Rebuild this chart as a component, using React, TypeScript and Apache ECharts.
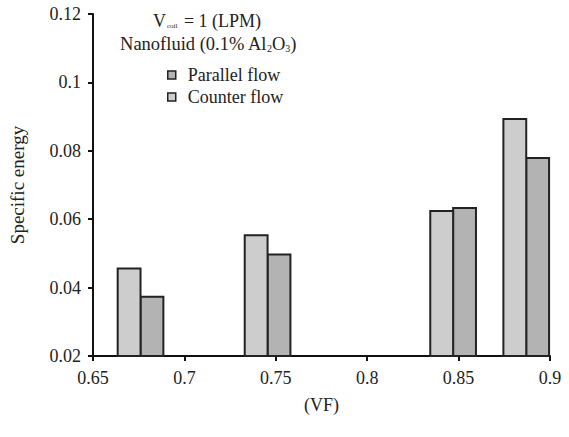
import React, { useEffect, useRef } from "react";
import * as echarts from "echarts";

// Volume fraction positions of each bar pair (left edge of the dark bar)
const vfPositions = [0.676, 0.7455, 0.847, 0.887];
// Specific energy, counter flow (light bars, left of each pair)
const counterFlow = [0.0456, 0.0553, 0.0624, 0.0893];
// Specific energy, parallel flow (dark bars, right of each pair)
const parallelFlow = [0.0373, 0.0497, 0.0633, 0.0779];
const xTicks = [0.65, 0.7, 0.75, 0.8, 0.85, 0.9];
const yTicks = [0.02, 0.04, 0.06, 0.08, 0.1, 0.12];

const BAR_W = 0.0125; // bar width in VF units
const Y_MIN = 0.02;
const FONT = "Liberation Serif";
const INK = "#222";

const makeBars = (name: string, values: number[], shift: number, fill: string) => ({
  name,
  type: "custom",
  itemStyle: { color: fill, borderColor: INK, borderWidth: 1.5 },
  data: vfPositions.map((x, i) => [x, values[i]]),
  renderItem: (_params: any, api: any) => {
    const x = api.value(0) + shift;
    const y = api.value(1);
    const p0 = api.coord([x, y]);
    const p1 = api.coord([x + BAR_W, Y_MIN]);
    return {
      type: "rect",
      shape: { x: p0[0], y: p0[1], width: p1[0] - p0[0], height: p1[1] - p0[1] },
      style: { fill, stroke: INK, lineWidth: 2 },
    };
  },
});

export default function App() {
  const ref = useRef<HTMLDivElement>(null);
  useEffect(() => {
    if (!ref.current) return;
    const chart = echarts.init(ref.current, undefined, { renderer: "svg" });
    chart.setOption({
      animation: false,
      backgroundColor: "#fff",
      textStyle: { fontFamily: FONT },
      grid: { left: 89, right: 19, top: 14, bottom: 81 },
      xAxis: {
        type: "value",
        min: xTicks[0],
        max: xTicks[xTicks.length - 1],
        interval: 0.05,
        name: "(VF)",
        nameLocation: "middle",
        nameGap: 40,
        nameTextStyle: { fontFamily: FONT, fontSize: 18, color: INK },
        axisLine: { show: true, lineStyle: { color: "#111", width: 2 } },
        axisTick: { show: true, length: 5, lineStyle: { color: "#111", width: 2 } },
        axisLabel: { fontFamily: FONT, fontSize: 18, color: INK, margin: 13 },
        splitLine: { show: false },
      },
      yAxis: {
        type: "value",
        min: yTicks[0],
        max: yTicks[yTicks.length - 1],
        interval: 0.02,
        name: "Specific energy",
        nameLocation: "middle",
        nameGap: 66,
        nameTextStyle: { fontFamily: FONT, fontSize: 19, color: INK },
        axisLine: { show: true, lineStyle: { color: "#111", width: 2 } },
        axisTick: { show: true, length: 5, lineStyle: { color: "#111", width: 2 } },
        axisLabel: { fontFamily: FONT, fontSize: 18, color: INK, margin: 12 },
        splitLine: { show: false },
      },
      legend: {
        orient: "vertical",
        left: 167,
        top: 66,
        padding: 0,
        itemWidth: 8,
        itemHeight: 8,
        itemGap: 4,
        icon: "rect",
        data: ["Parallel flow", "Counter flow"],
        itemStyle: { borderColor: INK, borderWidth: 1.5 },
        textStyle: { fontFamily: FONT, fontSize: 18, color: INK, lineHeight: 18, padding: [0, 0, 0, 7] },
      },
      graphic: [
        {
          type: "text",
          style: {
            x: 207,
            y: 21,
            align: "center",
            verticalAlign: "middle",
            text: "{n|V}{s|coil}{n| = 1 (LPM)}",
            rich: {
              n: { fontFamily: FONT, fontSize: 18, fill: INK },
              s: { fontFamily: FONT, fontSize: 7, fill: INK, padding: [9, 2, 0, 1] },
            },
          },
        },
        {
          type: "text",
          style: {
            x: 208,
            y: 44,
            align: "center",
            verticalAlign: "middle",
            text: "{n|Nanofluid (0.1% Al}{s|2}{n|O}{s|3}{n|)}",
            rich: {
              n: { fontFamily: FONT, fontSize: 18.5, fill: INK },
              s: { fontFamily: FONT, fontSize: 10, fill: INK, padding: [8, 0, 0, 0] },
            },
          },
        },
      ],
      series: [
        makeBars("Parallel flow", parallelFlow, 0, "#b3b3b3"),
        makeBars("Counter flow", counterFlow, -BAR_W, "#cdcdcd"),
      ],
    });
    return () => chart.dispose();
  }, []);
  return <div ref={ref} style={{ width: 569, height: 437, position: "absolute", left: 0, top: 0 }} />;
}
